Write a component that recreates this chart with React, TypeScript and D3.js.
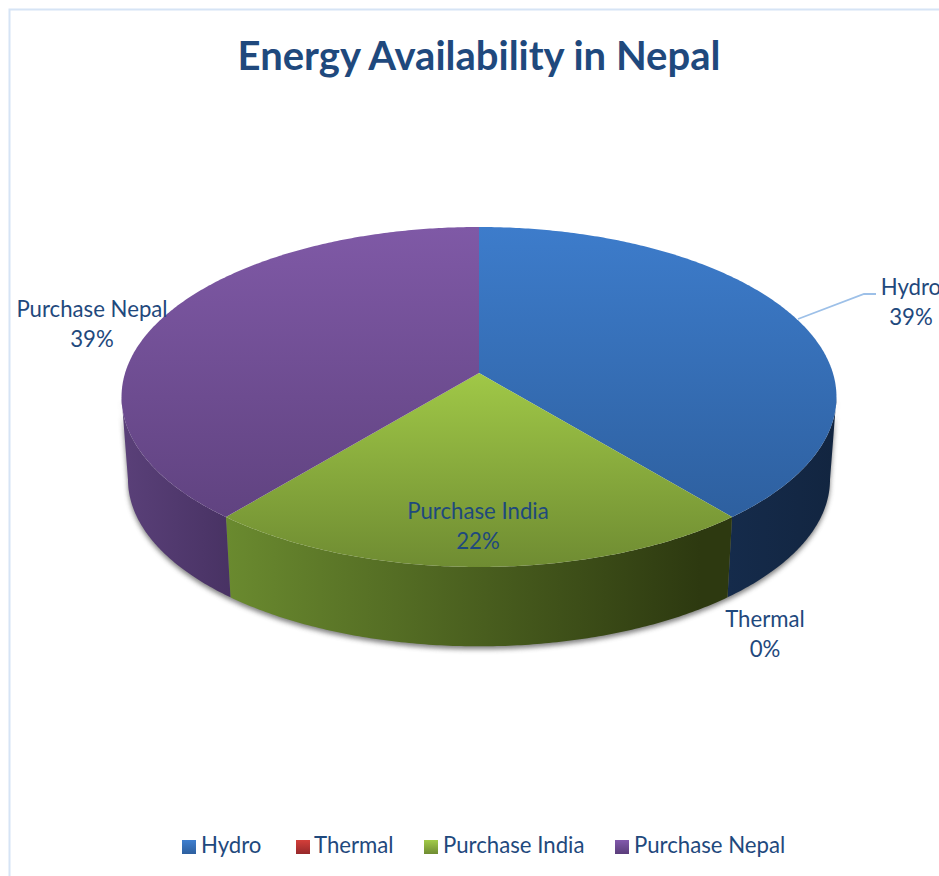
import React from "react";
import * as d3 from "d3";

// Chart content
const title = "Energy Availability in Nepal";
const categories = ["Hydro", "Thermal", "Purchase India", "Purchase Nepal"];
const shares = [39, 0, 22, 39];

// Colours per category: top face gradient, then wall gradient
const topColors = [
  ["#3d7ccb", "#2b5b98"],
  ["#d43f3a", "#96282a"],
  ["#a0c847", "#6f8c32"],
  ["#7f59a6", "#5b3f7a"],
];
const wallColors = [
  ["#152b4b", "#122540"],
  ["#7a1f1d", "#5a1715"],
  ["#6a8a2f", "#2d3910"],
  ["#5a4079", "#483263"],
];
const legendColors = [
  ["#3f7fcf", "#2d5f9e"],
  ["#d43f3a", "#96282a"],
  ["#a2cb48", "#6f8c32"],
  ["#8259ac", "#5a3d7a"],
];

// Label placement, one entry per category
const labelCentre = [911, 765, 478, 92];
const labelBaseline = [295, 627, 519, 317];
const legendSwatchX = [182, 296, 424, 615];
const legendTextX = [201, 314, 443, 634];

const W = 939;
const H = 876;
const NAVY = "#1f497d";
const FONT = "Lato, Carlito, 'Open Sans', sans-serif";

// Perspective projection of a unit disc seen from the front and above.
const K = 0.141;
const project = (theta: number, a: number, b: number, cy: number): [number, number] => {
  const u = Math.sin(theta);
  const v = Math.cos(theta);
  const w = 1 + K * v;
  return [479 + (a * u) / w, cy - (b * v) / w];
};
const topRim = (t: number) => project(t, 353.9, 166.6, 373);
const baseRim = (t: number) => project(t, 347.5, 163.5, 456);

// Angles where the disc outline turns away from the viewer
const wallFrom = Math.acos(-K);
const wallTo = 2 * Math.PI - wallFrom;

const arcAngles = (a0: number, a1: number) => {
  const n = Math.max(2, Math.ceil((a1 - a0) / 0.01));
  return d3.range(n + 1).map((i) => a0 + ((a1 - a0) * i) / n);
};

const line = d3.line().curve(d3.curveLinear);

export default function App() {
  const pie = d3
    .pie<number>()
    .sort(null)
    .value((d) => d);
  const arcs = pie(shares);
  const total = d3.sum(shares);
  const pct = d3.format(".0%");

  const topPath = (s: number, e: number) =>
    line([[479, 373], ...arcAngles(s, e).map(topRim)]) + "Z";

  const wallPath = (s: number, e: number) => {
    const a0 = Math.max(s, wallFrom);
    const a1 = Math.min(e, wallTo);
    if (a1 <= a0) return null;
    const angles = arcAngles(a0, a1);
    return line([...angles.map(topRim), ...angles.slice().reverse().map(baseRim)]) + "Z";
  };

  const shadowPath = line([
    ...arcAngles(wallFrom, wallTo).map(topRim),
    ...arcAngles(wallFrom, wallTo).reverse().map(baseRim),
  ]) + "Z";

  return (
    <svg
      width={W}
      height={H}
      viewBox={`0 0 ${W} ${H}`}
      style={{ position: "absolute", left: 0, top: 0, background: "#fff" }}
    >
      <defs>
        <filter id="rimShadow" x="-10%" y="-10%" width="120%" height="120%">
          <feGaussianBlur stdDeviation="2.6" />
        </filter>
        {categories.map((c, i) => (
          <React.Fragment key={c}>
            <linearGradient
              id={`top${i}`}
              gradientUnits="userSpaceOnUse"
              x1={0}
              y1={i === 2 ? 373 : 227}
              x2={0}
              y2={567}
            >
              <stop offset="0" stopColor={topColors[i][0]} />
              <stop offset="1" stopColor={topColors[i][1]} />
            </linearGradient>
            <linearGradient
              id={`wall${i}`}
              gradientUnits="userSpaceOnUse"
              x1={i === 2 ? 227 : i === 3 ? 121 : 727}
              y1={0}
              x2={i === 2 ? 700 : i === 3 ? 232 : 836}
              y2={0}
            >
              <stop offset="0" stopColor={wallColors[i][0]} />
              <stop offset="1" stopColor={wallColors[i][1]} />
            </linearGradient>
            <linearGradient id={`swatch${i}`} x1="0" y1="0" x2="0" y2="1">
              <stop offset="0" stopColor={legendColors[i][0]} />
              <stop offset="1" stopColor={legendColors[i][1]} />
            </linearGradient>
          </React.Fragment>
        ))}
      </defs>

      {/* Chart frame */}
      <path d={`M9.5 ${H} V9.5 H${W}`} fill="none" stroke="#d6e4f5" strokeWidth={2} />

      <text
        x={479}
        y={70}
        textAnchor="middle"
        fontFamily={FONT}
        fontWeight={700}
        fontSize={40}
        fill={NAVY}
      >
        {title}
      </text>

      {/* Soft shadow beneath the disc */}
      <path
        d={shadowPath}
        transform="translate(0,3)"
        fill="#6b6b6b"
        opacity={0.85}
        filter="url(#rimShadow)"
      />

      {/* Side walls */}
      {arcs.map((a, i) => {
        const d = a.value > 0 ? wallPath(a.startAngle, a.endAngle) : null;
        return d ? <path key={i} d={d} fill={`url(#wall${i})`} /> : null;
      })}

      {/* Top faces */}
      {arcs.map((a, i) =>
        a.value > 0 ? (
          <path key={i} d={topPath(a.startAngle, a.endAngle)} fill={`url(#top${i})`} />
        ) : null
      )}

      {/* Leader line for the first slice */}
      <polyline
        points="798,319 864,294 876,294"
        fill="none"
        stroke="#9dc0e8"
        strokeWidth={1.8}
      />

      {/* Data labels */}
      {categories.map((c, i) => (
        <text
          key={c}
          textAnchor="middle"
          fontFamily={FONT}
          fontSize={22.2}
          fill={NAVY}
        >
          <tspan x={labelCentre[i]} y={labelBaseline[i]}>
            {c}
          </tspan>
          <tspan x={labelCentre[i]} y={labelBaseline[i] + 29.5}>
            {pct(shares[i] / total)}
          </tspan>
        </text>
      ))}

      {/* Legend */}
      {categories.map((c, i) => (
        <g key={c}>
          <rect
            x={legendSwatchX[i]}
            y={840}
            width={14}
            height={14}
            fill={`url(#swatch${i})`}
          />
          <text
            x={legendTextX[i]}
            y={853}
            fontFamily={FONT}
            fontSize={22.2}
            fill={NAVY}
          >
            {c}
          </text>
        </g>
      ))}
    </svg>
  );
}
